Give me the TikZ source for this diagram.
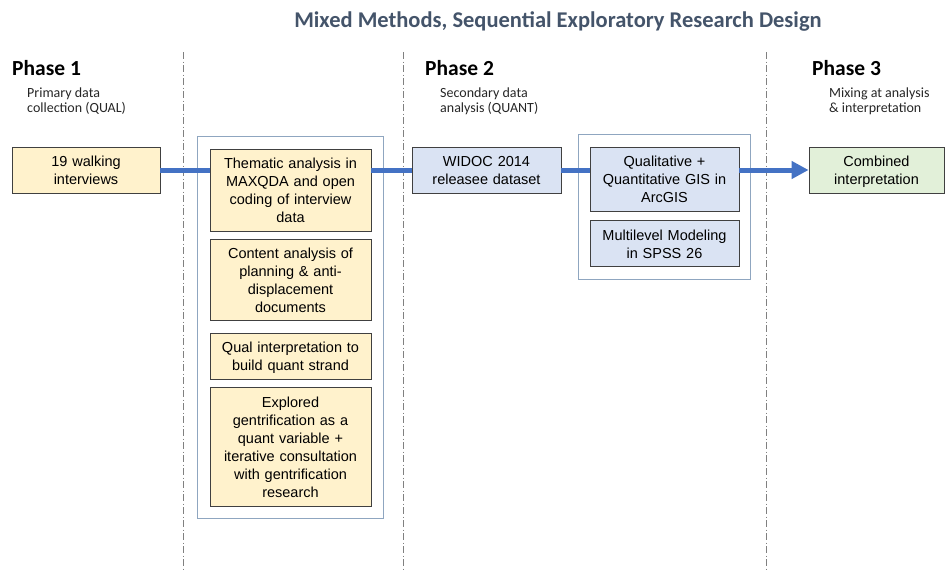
\documentclass[tikz,border=0pt]{standalone}
\usepackage{fontspec}
\setmainfont{Liberation Sans}
\newfontfamily\calibrifont{Carlito}
\usetikzlibrary{
    arrows.meta,
    fit,
    positioning
}

\definecolor{qualfill}{HTML}{FFF2CC}
\definecolor{quantfill}{HTML}{DAE3F3}
\definecolor{mixfill}{HTML}{E2F0D9}
\definecolor{boxline}{HTML}{404040}
\definecolor{groupline}{HTML}{8FA6C0}
\definecolor{flowblue}{HTML}{4472C4}
\definecolor{titlegray}{HTML}{44546A}
\definecolor{notegray}{HTML}{262626}

\tikzset{
    stagebox/.style={draw=boxline, line width=0.8pt, align=center, inner sep=2pt,
        font=\fontsize{14.5}{18}\selectfont,
        execute at begin node=\rule{0pt}{16pt}, execute at end node=\strut},
    qualbox/.style={stagebox, fill=qualfill},
    quantbox/.style={stagebox, fill=quantfill},
    mixbox/.style={stagebox, fill=mixfill},
    groupbox/.style={draw=groupline, line width=1pt},
    phaselabel/.style={anchor=base west, inner sep=0pt,
        font=\calibrifont\bfseries\fontsize{21.5}{26}\selectfont},
    phasenote/.style={anchor=north west, inner sep=0pt, align=left, text=notegray,
        font=\calibrifont\fontsize{14}{15.5}\selectfont},
    phasesep/.style={draw=gray, line width=0.7pt,
        dash pattern=on 7pt off 2.5pt on 1pt off 2.5pt},
    flowline/.style={draw=flowblue, line width=5pt}
}

\begin{document}
\begin{tikzpicture}[x=1pt, y=-1pt]
    \useasboundingbox (0,0) rectangle (945,571);

    % phase separators
    \foreach \sx in {183, 403, 766}
        \draw[phasesep] (\sx,52) -- (\sx,571);

    % title and phase headings
    \node[anchor=base, text=titlegray, font=\calibrifont\bfseries\fontsize{22.5}{27}\selectfont]
        (title) at (558,27) {Mixed Methods, Sequential Exploratory Research Design};

    \node[phaselabel] (phaseone)   at (12,75)  {Phase 1};
    \node[phaselabel] (phasetwo)   at (425,75) {Phase 2};
    \node[phaselabel] (phasethree) at (812,75) {Phase 3};

    \node[phasenote] (noteone)   at (27,87.5)  {Primary data\\collection (QUAL)};
    \node[phasenote] (notetwo)   at (440,87.5) {Secondary data\\analysis (QUANT)};
    \node[phasenote] (notethree) at (829,87.5) {Mixing at analysis\\\& interpretation};

    % phase 1
    \node[qualbox, minimum width=148pt, minimum height=46pt, text width=144pt]
        (walk) at (86,170) {19 walking\\interviews};

    \node[qualbox, minimum width=161pt, minimum height=82pt, text width=157pt]
        (thema) at (290.5,190) {Thematic analysis in\\MAXQDA and open\\coding of interview\\data};
    \node[qualbox, minimum width=161pt, minimum height=81pt, text width=157pt,
        below=8pt of thema] (content) {Content analysis of\\planning \& anti-\\displacement\\documents};
    \node[qualbox, minimum width=161pt, minimum height=46pt, text width=157pt,
        below=12pt of content] (qualint) {Qual interpretation to\\build quant strand};
    \node[qualbox, minimum width=161pt, minimum height=119pt, text width=157pt,
        below=7pt of qualint] (explor) {Explored\\gentrification as a\\quant variable +\\iterative consultation\\with gentrification\\research};
    \node[groupbox, fit=(thema)(explor), inner sep=12pt] (qualgroup) {};

    % phase 2
    \node[quantbox, minimum width=149pt, minimum height=46pt, text width=145pt]
        (widoc) at (486.5,170) {WIDOC 2014\\releasee dataset};

    \node[quantbox, minimum width=149pt, minimum height=64pt, text width=145pt]
        (gisqual) at (664.5,179) {Qualitative +\\Quantitative GIS in\\ArcGIS};
    \node[quantbox, minimum width=149pt, minimum height=46pt, text width=145pt,
        below=9pt of gisqual] (multilevel) {Multilevel Modeling\\in SPSS 26};
    \node[groupbox, fit=(gisqual)(multilevel), inner xsep=11pt, inner ysep=12pt] (quantgroup) {};

    % phase 3
    \node[mixbox, minimum width=135pt, minimum height=46pt, text width=131pt]
        (combined) at (876.5,170) {Combined\\interpretation};

    % flow
    \draw[flowline] (walk.east) -- (walk.east -| thema.west);
    \draw[flowline] (thema.east |- walk.east) -- (widoc.west);
    \draw[flowline] (widoc.east) -- (widoc.east -| gisqual.west);
    \draw[flowline, -{Triangle[length=17pt, width=17pt]}]
        (gisqual.east |- widoc.east) -- (combined.west);
\end{tikzpicture}
\end{document}
